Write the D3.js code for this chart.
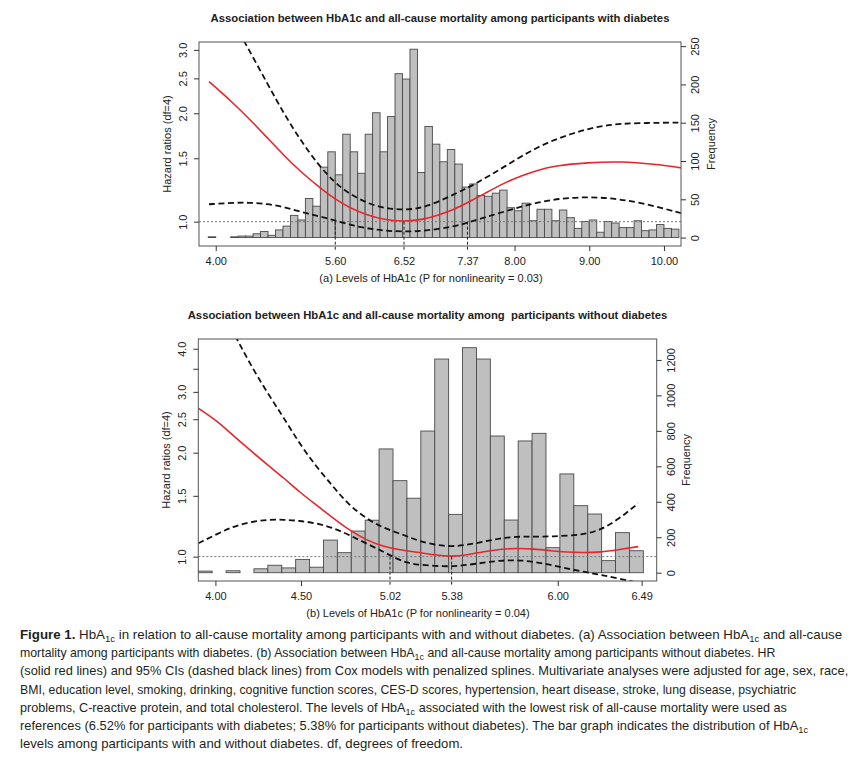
<!DOCTYPE html>
<html>
<head>
<meta charset="utf-8">
<script src="https://d3js.org/d3.v7.min.js"></script>
<style>
  body { margin: 0; background: #fff; }
  svg text { font-family: "Liberation Sans", Arial, Helvetica, sans-serif; fill: #222; }
  .caption text { font-family: "Liberation Sans", Arial, sans-serif; fill: #231f20; }
</style>
</head>
<body>
<script>
// ---------- panel (a): participants with diabetes ----------
var binStartA = 3.9, binWidthA = 0.1;
var freqA = [1, 0, 0, 1, 2, 2, 5, 8, 3, 10, 15, 29, 23, 51, 41, 92, 112, 82, 135, 112,
    84, 135, 163, 112, 158, 214, 207, 246, 85, 145, 122, 99, 115, 96, 66, 70, 55, 54, 58, 62,
    39, 35, 45, 22, 37, 37, 22, 36, 26, 12, 21, 23, 7, 21, 19, 13, 13, 22, 9, 10, 17, 12, 11];

var hrXA = [3.91, 4.24, 4.46, 4.69, 4.91, 5.13, 5.36, 5.58, 5.80, 6.03, 6.25, 6.52, 6.79, 6.96,
    7.19, 7.41, 7.64, 7.86, 8.08, 8.31, 8.53, 8.98, 9.43, 9.87, 10.24];
var hrA = [2.45, 2.13, 1.92, 1.71, 1.53, 1.38, 1.26, 1.16, 1.09, 1.044, 1.012, 1.00, 1.015, 1.04,
    1.08, 1.14, 1.21, 1.28, 1.34, 1.39, 1.43, 1.46, 1.47, 1.445, 1.41];
var upXA = [3.91, 4.15, 4.39, 4.69, 4.91, 5.13, 5.36, 5.58, 5.80, 6.03, 6.25, 6.52, 6.79, 7.19,
    7.50, 7.86, 8.31, 8.76, 9.20, 9.65, 10.24];
var upA = [4.9, 3.85, 3.15, 2.42, 2.0, 1.69, 1.45, 1.29, 1.19, 1.125, 1.09, 1.078, 1.09, 1.19,
    1.28, 1.42, 1.62, 1.76, 1.86, 1.88, 1.885];
var loXA = [3.91, 4.24, 4.46, 4.69, 4.91, 5.13, 5.36, 5.58, 5.80, 6.03, 6.25, 6.52, 6.79, 7.19,
    7.41, 7.86, 8.31, 8.76, 9.20, 9.65, 10.24];
var loA = [1.118, 1.129, 1.13, 1.12, 1.10, 1.066, 1.037, 1.011, 0.979, 0.958, 0.944, 0.938, 0.942,
    0.968, 1.0, 1.066, 1.136, 1.17, 1.169, 1.136, 1.055];

var xTicksA = [4.00, 5.60, 6.52, 7.37, 8.00, 9.00, 10.00];
var refXA = [5.60, 6.52, 7.37];
var hrTicksA = [1.0, 1.5, 2.0, 2.5, 3.0];
var freqTicksA = [0, 50, 100, 150, 200, 250];

// ---------- panel (b): participants without diabetes ----------
var binStartB = 3.9, binWidthB = 2.6 / 32;
var freqB = [9, 0, 11, 0, 22, 42, 27, 75, 31, 184, 113, 235, 296, 698, 519, 420,
    799, 1205, 329, 1269, 1205, 771, 297, 743, 786, 141, 557, 378, 331, 68, 226, 124];

var hrXB = [3.90, 4.01, 4.10, 4.20, 4.30, 4.40, 4.49, 4.59, 4.69, 4.78, 4.88, 4.98, 5.08, 5.18,
    5.28, 5.38, 5.47, 5.57, 5.66, 5.76, 5.86, 5.96, 6.05, 6.15, 6.25, 6.35, 6.47];
var hrB = [2.69, 2.47, 2.25, 2.04, 1.85, 1.69, 1.54, 1.41, 1.29, 1.195, 1.118, 1.069, 1.045, 1.03,
    1.011, 1.0, 1.011, 1.034, 1.05, 1.057, 1.053, 1.04, 1.03, 1.027, 1.03, 1.046, 1.069];
var upXB = [3.90, 4.00, 4.13, 4.20, 4.30, 4.40, 4.49, 4.59, 4.69, 4.78, 4.88, 4.98, 5.10, 5.18,
    5.28, 5.38, 5.47, 5.57, 5.66, 5.76, 5.86, 5.96, 6.15, 6.25, 6.35, 6.47];
var upB = [6.8, 5.5, 4.24, 3.63, 3.0, 2.52, 2.13, 1.82, 1.59, 1.41, 1.29, 1.21, 1.156, 1.113,
    1.081, 1.069, 1.081, 1.105, 1.13, 1.143, 1.143, 1.143, 1.156, 1.195, 1.277, 1.427];
var loXB = [3.90, 4.01, 4.10, 4.20, 4.30, 4.40, 4.49, 4.59, 4.69, 4.78, 4.88, 4.98, 5.06, 5.12,
    5.18, 5.28, 5.38, 5.47, 5.57, 5.66, 5.76, 5.86, 5.96, 6.05, 6.15, 6.25, 6.35, 6.47];
var loB = [1.093, 1.163, 1.22, 1.26, 1.28, 1.28, 1.27, 1.25, 1.21, 1.156, 1.093, 1.034, 0.985, 0.96,
    0.948, 0.94, 0.936, 0.946, 0.961, 0.974, 0.978, 0.967, 0.946, 0.924, 0.905, 0.885, 0.866, 0.84];

var xTicksB = [4.00, 4.50, 5.02, 5.38, 6.00, 6.49];
var refXB = [5.02, 5.38];
var hrTicksB = [1.0, 1.5, 2.0, 2.5, 3.0, 3.5, 4.0];
var hrLabelsB = [1.0, 1.5, 2.0, 2.5, 3.0, 4.0];
var freqTicksB = [0, 200, 400, 600, 800, 1000, 1200];

var captionLines = [
    " HbA1c in relation to all-cause mortality among participants with and without diabetes. (a) Association between HbA1c and all-cause",
    "mortality among participants with diabetes. (b) Association between HbA1c and all-cause mortality among participants without diabetes. HR",
    "(solid red lines) and 95% CIs (dashed black lines) from Cox models with penalized splines. Multivariate analyses were adjusted for age, sex, race,",
    "BMI, education level, smoking, drinking, cognitive function scores, CES-D scores, hypertension, heart disease, stroke, lung disease, psychiatric",
    "problems, C-reactive protein, and total cholesterol. The levels of HbA1c associated with the lowest risk of all-cause mortality were used as",
    "references (6.52% for participants with diabetes; 5.38% for participants without diabetes). The bar graph indicates the distribution of HbA1c",
    "levels among participants with and without diabetes. df, degrees of freedom."
];
// where each printed caption line ends
var captionEnds = [843, 776, 849, 797, 787, 808, 463];

var svgWidth = 868;
var svgHeight = 758;

var svg = d3.select("body")
    .append("svg")
    .attr("width", svgWidth)
    .attr("height", svgHeight);

function drawPanel(p) {
    var x = d3.scaleLinear().domain(p.xDomain).range([p.left, p.right]);
    var yHr = d3.scaleLog().domain(p.hrDomain).range([p.bottom, p.top]);
    var yFreq = d3.scaleLinear().domain(p.freqDomain).range([p.bottom, p.top]);

    svg.append("clipPath").attr("id", "clip-" + p.id)
        .append("rect")
        .attr("x", p.left).attr("y", p.top)
        .attr("width", p.right - p.left).attr("height", p.bottom - p.top);

    var plot = svg.append("g").attr("clip-path", `url(#clip-${p.id})`);

    // histogram
    plot.selectAll("rect.bar")
        .data(p.freq)
        .enter()
        .append("rect")
        .attr("class", "bar")
        .attr("x", (d, i) => x(p.binStart + i * p.binWidth))
        .attr("width", (d, i) => x(p.binStart + (i + 1) * p.binWidth) - x(p.binStart + i * p.binWidth))
        .attr("y", d => yFreq(d))
        .attr("height", d => yFreq(0) - yFreq(d))
        .attr("fill", "#bfbfbf")
        .attr("stroke", "#4a4a4a")
        .attr("stroke-width", 0.9);

    // HR = 1 reference
    plot.append("line")
        .attr("x1", p.left).attr("x2", p.right)
        .attr("y1", yHr(1)).attr("y2", yHr(1))
        .attr("stroke", "#777")
        .attr("stroke-width", 1)
        .attr("stroke-dasharray", "2,2");

    var line = d3.line()
        .x(d => x(d[0]))
        .y(d => yHr(d[1]))
        .curve(d3.curveBasis);

    [[p.upX, p.up], [p.loX, p.lo]].forEach(function(c) {
        plot.append("path")
            .datum(d3.zip(c[0], c[1]))
            .attr("d", line)
            .attr("fill", "none")
            .attr("stroke", "#111")
            .attr("stroke-width", 1.8)
            .attr("stroke-dasharray", "6,3.5");
    });

    plot.append("path")
        .datum(d3.zip(p.hrX, p.hr))
        .attr("d", line)
        .attr("fill", "none")
        .attr("stroke", "#e8262b")
        .attr("stroke-width", 1.6);

    // reference HbA1c levels
    svg.selectAll(null)
        .data(p.refX)
        .enter()
        .append("line")
        .attr("x1", d => x(d)).attr("x2", d => x(d))
        .attr("y1", yHr(1)).attr("y2", p.bottom + 5)
        .attr("stroke", "#222")
        .attr("stroke-width", 1)
        .attr("stroke-dasharray", "3,2");

    // frame
    svg.append("rect")
        .attr("x", p.left).attr("y", p.top)
        .attr("width", p.right - p.left).attr("height", p.bottom - p.top)
        .attr("fill", "none")
        .attr("stroke", "#555")
        .attr("stroke-width", 1);

    // axes
    var xAxis = svg.append("g")
        .attr("transform", `translate(0, ${p.bottom})`)
        .call(d3.axisBottom(x).tickValues(p.xTicks).tickFormat(d3.format(".2f")).tickSize(5).tickPadding(6));
    xAxis.select(".domain").remove();
    xAxis.selectAll(".tick line").filter(d => p.refX.includes(d)).remove();

    var leftAxis = svg.append("g")
        .attr("transform", `translate(${p.left}, 0)`)
        .call(d3.axisLeft(yHr).tickValues(p.hrTicks)
            .tickFormat(d => p.hrLabels.includes(d) ? d3.format(".1f")(d) : "").tickSize(5));
    leftAxis.select(".domain").remove();
    leftAxis.selectAll(".tick text")
        .attr("transform", "rotate(-90)")
        .attr("x", 0).attr("y", -12).attr("dy", 0)
        .attr("text-anchor", "middle");

    var rightAxis = svg.append("g")
        .attr("transform", `translate(${p.right}, 0)`)
        .call(d3.axisRight(yFreq).tickValues(p.freqTicks).tickFormat(d3.format("d")).tickSize(5));
    rightAxis.select(".domain").remove();
    rightAxis.selectAll(".tick text")
        .attr("transform", "rotate(-90)")
        .attr("x", 0).attr("y", 18).attr("dy", 0)
        .attr("text-anchor", "middle");

    [xAxis, leftAxis, rightAxis].forEach(function(a) {
        a.attr("font-size", 11).attr("color", "#333");
    });

    // titles
    svg.append("text")
        .attr("x", (p.left + p.right) / 2)
        .attr("y", p.top - 20)
        .attr("text-anchor", "middle")
        .attr("font-weight", "bold")
        .attr("font-size", 11.3)
        .style("white-space", "pre")
        .text(p.title);

    svg.append("text")
        .attr("x", p.xLabelX)
        .attr("y", p.bottom + 35.5)
        .attr("text-anchor", "middle")
        .attr("font-size", 11)
        .text(p.xLabel);

    svg.append("text")
        .attr("transform", `translate(${p.left - 28.5}, ${(p.top + p.bottom) / 2}) rotate(-90)`)
        .attr("text-anchor", "middle")
        .attr("font-size", 11)
        .text("Hazard ratios (df=4)");

    svg.append("text")
        .attr("transform", `translate(${p.right + 33.5}, ${(p.top + p.bottom) / 2}) rotate(-90)`)
        .attr("text-anchor", "middle")
        .attr("font-size", 11)
        .text("Frequency");
}

drawPanel({
    id: "a",
    left: 199, right: 681, top: 42, bottom: 246,
    xDomain: [3.776, 10.228], hrDomain: [0.856, 3.155], freqDomain: [-11, 255.4],
    binStart: binStartA, binWidth: binWidthA, freq: freqA,
    hrX: hrXA, hr: hrA, upX: upXA, up: upA, loX: loXA, lo: loA,
    xTicks: xTicksA, refX: refXA, hrTicks: hrTicksA, hrLabels: hrTicksA, freqTicks: freqTicksA,
    title: "Association between HbA1c and all-cause mortality among participants with diabetes",
    xLabel: "(a) Levels of HbA1c (P for nonlinearity = 0.03)", xLabelX: 431
});

drawPanel({
    id: "b",
    left: 198.3, right: 656.7, top: 339, bottom: 581,
    xDomain: [3.9, 6.578], hrDomain: [0.850, 4.268], freqDomain: [-46.8, 1318],
    binStart: binStartB, binWidth: binWidthB, freq: freqB,
    hrX: hrXB, hr: hrB, upX: upXB, up: upB, loX: loXB, lo: loB,
    xTicks: xTicksB, refX: refXB, hrTicks: hrTicksB, hrLabels: hrLabelsB, freqTicks: freqTicksB,
    title: "Association between HbA1c and all-cause mortality among  participants without diabetes",
    xLabel: "(b) Levels of HbA1c (P for nonlinearity = 0.04)", xLabelX: 418
});

// caption: each line squeezed horizontally to the printed (condensed) line length
var caption = svg.append("g").attr("class", "caption").attr("font-size", 13.6);

captionLines.forEach(function(str, i) {
    var row = caption.append("g");
    var t = row.append("text")
        .attr("x", 0)
        .attr("y", 639 + i * 18.2)
        .style("white-space", "pre");
    if (i === 0) {
        t.append("tspan").attr("font-weight", "bold").text("Figure 1.");
    }
    var parts = str.split("HbA1c");
    parts.forEach(function(part, k) {
        if (k > 0) {
            t.append("tspan").text("HbA");
            t.append("tspan").attr("dy", 3).attr("font-size", "0.72em").text("1c");
            t.append("tspan").attr("dy", -3).text(part);
        } else {
            t.append("tspan").text(part);
        }
    });
    var len = t.node().getComputedTextLength();
    row.attr("transform", `translate(20, 0) scale(${(captionEnds[i] - 20) / len}, 1)`);
});
</script>
</body>
</html>
